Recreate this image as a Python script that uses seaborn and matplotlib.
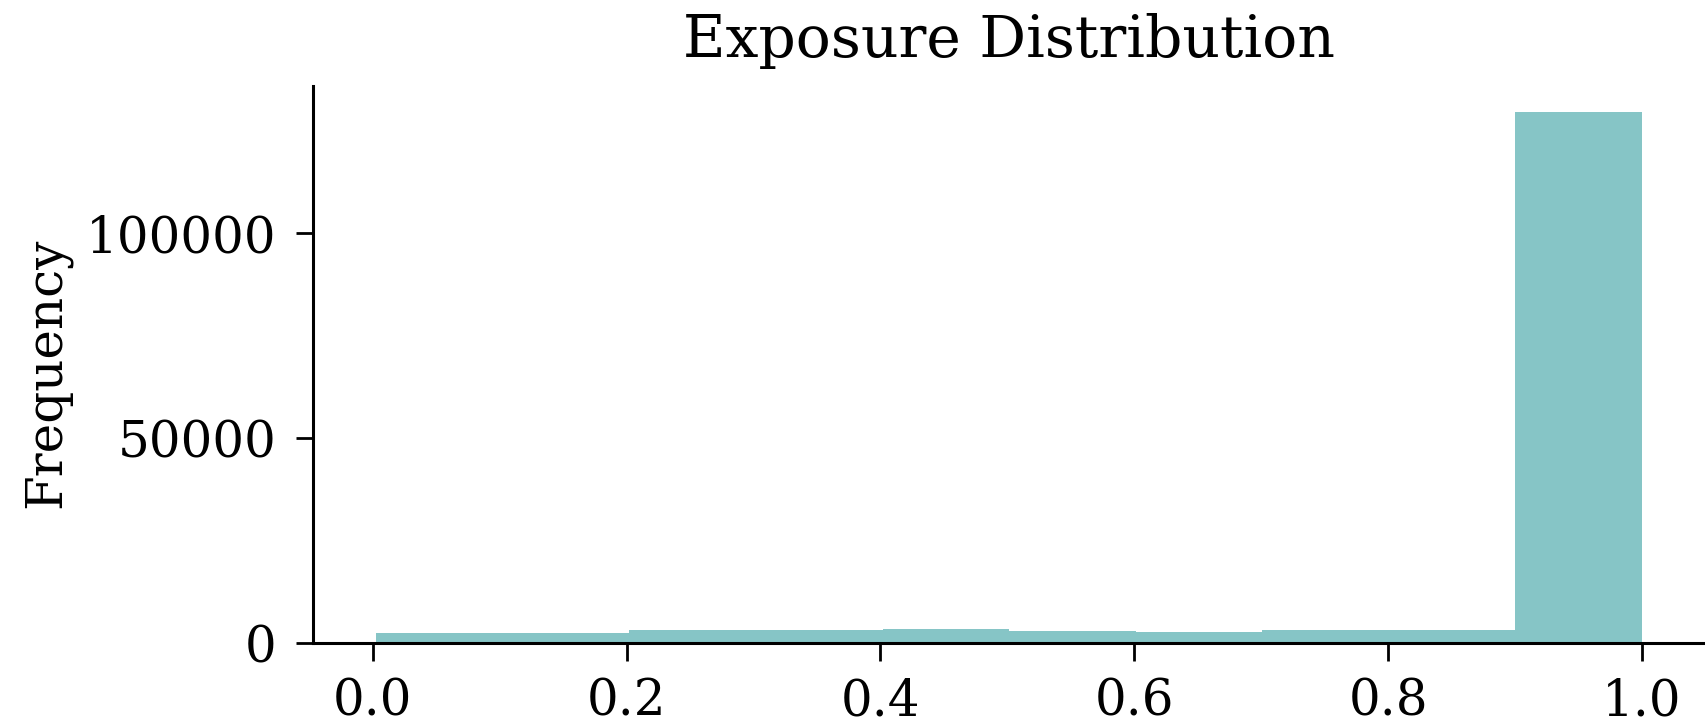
import matplotlib
matplotlib.use("Agg")
import matplotlib.pyplot as plt
import seaborn as sns
import numpy as np
import pandas as pd

# Histogram of exposure (10 equal bins between min and max exposure)
bin_edges = [0.0027, 0.1024, 0.2022, 0.3019, 0.4016, 0.5014, 0.6011, 0.7008, 0.8005, 0.9003, 1.0]
bin_counts = [2450, 2450, 3300, 3300, 3400, 3100, 2700, 3300, 3300, 129500]
x_ticks = [0.0, 0.2, 0.4, 0.6, 0.8, 1.0]
y_ticks = [0, 50000, 100000]

sns.set_theme(style="ticks")
plt.rcParams['font.family'] = ['DejaVu Serif']
plt.rcParams['text.color'] = 'black'
plt.rcParams['axes.labelcolor'] = 'black'

centers = [(a + b) / 2 for a, b in zip(bin_edges[:-1], bin_edges[1:])]
df = pd.DataFrame({"Exposure": centers, "count": bin_counts})

fig = plt.figure(figsize=(8.53, 3.61), dpi=200)
ax = fig.add_axes([0.1835, 0.109, 0.816, 0.772])
sns.histplot(data=df, x="Exposure", weights="count", bins=bin_edges,
             color="#86c5c6", alpha=1.0, edgecolor="none", linewidth=0, ax=ax)
sns.despine(ax=ax)
ax.set_xticks(x_ticks)
ax.set_yticks(y_ticks)
ax.set_xlabel("")
ax.set_ylabel("Frequency", fontsize=18, color="black", labelpad=5.5)
ax.yaxis.label.set_y(0.486)
ax.set_title("Exposure Distribution", fontsize=21, pad=10.5, color="black")
ax.tick_params(labelsize=18, length=6.3, width=1, colors="black")
ax.tick_params(axis="x", pad=6)
ax.tick_params(axis="y", pad=6.8)
for s in ax.spines.values():
    s.set_linewidth(1.1)
    s.set_color("black")
fig.savefig("out.png", dpi=200)
